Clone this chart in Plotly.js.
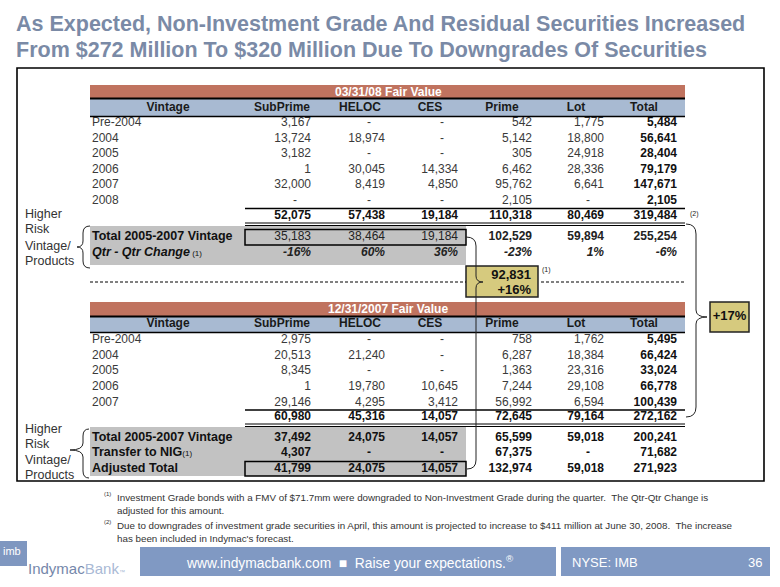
<!DOCTYPE html>
<html><head><meta charset="utf-8">
<script src="https://cdn.plot.ly/plotly-3.0.1.min.js"></script>
<style>html,body{margin:0;padding:0;background:#fff}#chart{width:780px;height:587px}</style>
</head><body><div id="chart"></div>
<script>
// ---------- DATA ----------
const headers = ['Vintage','SubPrime','HELOC','CES','Prime','Lot','Total'];
const titleQ1 = '03/31/08 Fair Value';
const titleQ4 = '12/31/2007 Fair Value';

const rowsQ1 = ['Pre-2004','2004','2005','2006','2007','2008'];
const q1SubPrime = [3167,13724,3182,1,32000,null];
const q1Heloc    = [null,18974,null,30045,8419,null];
const q1Ces      = [null,null,null,14334,4850,null];
const q1Prime    = [542,5142,305,6462,95762,2105];
const q1Lot      = [1775,18800,24918,28336,6641,null];
const q1Total    = [5484,56641,28404,79179,147671,2105];
const q1ColTotals  = [52075,57438,19184,110318,80469,319484];
const q1Vintage0507 = [35183,38464,19184,102529,59894,255254];
const q1QtrChange  = ['-16%','60%','36%','-23%','1%','-6%'];

const rowsQ4 = ['Pre-2004','2004','2005','2006','2007'];
const q4SubPrime = [2975,20513,8345,1,29146];
const q4Heloc    = [null,21240,null,19780,4295];
const q4Ces      = [null,null,null,10645,3412];
const q4Prime    = [758,6287,1363,7244,56992];
const q4Lot      = [1762,18384,23316,29108,6594];
const q4Total    = [5495,66424,33024,66778,100439];
const q4ColTotals   = [60980,45316,14057,72645,79164,272162];
const q4Vintage0507 = [37492,24075,14057,65599,59018,200241];
const q4TransferNIG = [4307,null,null,67375,null,71682];
const q4Adjusted    = [41799,24075,14057,132974,59018,271923];

const boxQ1Vintage = [92831];
const boxQ1Change = ['+16%'];
const boxTotalChange = ['+17%'];

// ---------- LAYOUT CONSTANTS ----------
const FONT = 'Liberation Sans, Arial, sans-serif';
const headerX = [168,282,360,430,502,576,644];
const numRight = [311,385,458,532,604,677];
const dashOff = 16;
const labelX = 92;
const Y1 = {head:108, rows:[123,139,154,170,185,201], tot:216, v:237, q:253};
const Y4 = {head:324, rows:[340,356,371,387,403], tot:417, v:438, t:453, a:469};
const fmt = v => v.toLocaleString('en-US');

const traces = [];
function textTrace(xs, ys, texts, pos, size, color, bold){
  traces.push({type:'scatter', mode:'text', x:xs, y:ys,
    text: texts.map(t => bold ? '<b>'+t+'</b>' : t),
    textposition: pos, marker:{size:1}, hoverinfo:'skip', showlegend:false,
    textfont:{family:FONT, size:size, color:color}, cliponaxis:false});
}
function numRow(vals, y, color, bold, cols){
  const xs=[], ys=[], ts=[], dx=[], dy=[], dt=[];
  vals.forEach((v,i)=>{
    const c = cols ? cols[i] : i;
    if (v===null){ dx.push(numRight[c]-dashOff); dy.push(y); dt.push('-'); }
    else { xs.push(numRight[c]); ys.push(y); ts.push(typeof v==='number'?fmt(v):v); }
  });
  textTrace(xs, ys, ts, 'middle left', 12, color, bold);
  if (dx.length) textTrace(dx, dy, dt, 'middle center', 12, color, bold);
}
function columnsOf(arrs, rowIdx){ return arrs.map(a=>a[rowIdx]); }

[Y1.head, Y4.head].forEach(y=>{
  textTrace(headerX, headerX.map(()=>y), headers, 'middle center', 12, '#1a1a1a', true);
});
const q1Cols=[q1SubPrime,q1Heloc,q1Ces,q1Prime,q1Lot];
textTrace(rowsQ1.map(()=>labelX), Y1.rows, rowsQ1, 'middle right', 12, '#3a3a3a', false);
rowsQ1.forEach((r,i)=>{ numRow(columnsOf(q1Cols,i), Y1.rows[i], '#3a3a3a', false); });
textTrace(q1Total.map(()=>numRight[5]), Y1.rows, q1Total.map(fmt), 'middle left', 12, '#111', true);
numRow(q1ColTotals, Y1.tot, '#111', true);
numRow(q1Vintage0507.slice(0,3), Y1.v, '#222', false);
numRow(q1Vintage0507.slice(3), Y1.v, '#222', true, [3,4,5]);
textTrace(q1QtrChange.map((v,i)=>numRight[i]), q1QtrChange.map(()=>Y1.q), q1QtrChange.map(v=>'<i>'+v+'</i>'), 'middle left', 12, '#222', true);

const q4Cols=[q4SubPrime,q4Heloc,q4Ces,q4Prime,q4Lot];
textTrace(rowsQ4.map(()=>labelX), Y4.rows, rowsQ4, 'middle right', 12, '#3a3a3a', false);
rowsQ4.forEach((r,i)=>{ numRow(columnsOf(q4Cols,i), Y4.rows[i], '#3a3a3a', false); });
textTrace(q4Total.map(()=>numRight[5]), Y4.rows, q4Total.map(fmt), 'middle left', 12, '#111', true);
numRow(q4ColTotals, Y4.tot, '#111', true);
numRow(q4Vintage0507, Y4.v, '#111', true);
numRow(q4TransferNIG, Y4.t, '#111', true);
numRow(q4Adjusted, Y4.a, '#111', true);

textTrace([labelX,labelX],[Y1.v,Y1.q],
  ['<b>Total 2005-2007 Vintage</b>','<b><i>Qtr - Qtr Change</i></b><span style="font-size:8px"> (1)</span>'],
  'middle right', 12.5, '#111', false);
textTrace([labelX,labelX,labelX],[Y4.v,Y4.t,Y4.a],
  ['<b>Total 2005-2007 Vintage</b>','<b>Transfer to NIG</b><span style="font-size:8px">(1)</span>','<b>Adjusted Total</b>'],
  'middle right', 12.5, '#111', false);

textTrace([531,531],[276,291],[fmt(boxQ1Vintage[0]), boxQ1Change[0]], 'middle left', 13, '#111', true);
textTrace([729.5],[317],boxTotalChange,'middle center',13,'#111',true);

// ---------- SHAPES ----------
const RED='#c0735f', BLUE='#a8bad2', GRAY='#c2c2c2', KHAKI='#d6ca7e';
const shapes=[];
const rect=(x0,y0,x1,y1,fill,lc,lw)=>shapes.push({type:'rect',xref:'x',yref:'y',x0,y0,x1,y1,fillcolor:fill||'rgba(0,0,0,0)',line:{color:lc||'rgba(0,0,0,0)',width:lw||0},layer:'below'});
const line=(x0,y0,x1,y1,w,c,dash)=>shapes.push({type:'line',xref:'x',yref:'y',x0,y0,x1,y1,line:{color:c||'#000',width:w,dash:dash||'solid'}});
const path=(p,w)=>shapes.push({type:'path',xref:'x',yref:'y',path:p,line:{color:'#222',width:w||1},fillcolor:'rgba(0,0,0,0)'});

rect(17,68,764,481,null,'#000',1.6);
rect(90,85,685,98,RED); line(90,98.5,685,98.5,2);
rect(90,99,685,116,BLUE); line(90,116.5,685,116.5,1.5);
line(245,208.5,685,208.5,1.5);
line(245,223,685,223,1); line(245,225.5,685,225.5,1);
rect(90,226,466,265,GRAY);
rect(245,229.5,466,245,null,'#000',1.5);
line(90,282,466,282,1,'#000','3px,2px'); line(541,282,685,282,1,'#000','3px,2px');
rect(90,302,685,316,RED); line(90,316.5,685,316.5,2);
rect(90,317,685,332,BLUE); line(90,332.5,685,332.5,1.5);
line(245,410,685,410,1.5);
line(245,424,685,424,1); line(245,426.5,685,426.5,1);
rect(90,427,466,476,GRAY);
rect(245,461.5,466,476,null,'#000',1.5);
rect(466,266,538,297,KHAKI,'#222',1.5);
rect(710,302,749,332,KHAKI,'#222',1.5);
path('M 90 226 Q 83 226 83 233 L 83 241 Q 83 247 77 247 Q 83 247 83 253 L 83 261 Q 83 268 90 268');
path('M 89 429 Q 83 429 83 436 L 83 443 Q 83 450 70 450 Q 83 450 83 457 L 83 471 Q 83 478 89 478');
path('M 466 237 Q 476 237 476 246 L 476 276 Q 476 282 483 282 Q 476 282 476 288 L 476 460 Q 476 469 467 469');
path('M 686 224 Q 696 224 696 234 L 696 310 Q 696 317 707 317 Q 696 317 696 324 L 696 407 Q 696 417 686 417');
rect(0,541,27,566,'#7f97c0');
rect(140,547,556,576,'#8099c3');
rect(561,547,770,576,'#8099c3');

// ---------- ANNOTATIONS ----------
const ann=[];
const A=(x,y,text,o)=>ann.push(Object.assign({xref:'x',yref:'y',x,y,text,showarrow:false,xanchor:'left',yanchor:'middle',borderpad:0,
  font:{family:FONT,size:12,color:'#333'}},o||{}));
const titleFont={family:FONT,size:21.5,color:'#7a8aa6'};
A(15,24,'<b>As Expected, Non-Investment Grade And Residual Securities Increased</b>',{font:titleFont});
A(15,50,'<b>From $272 Million To $320 Million Due To Downgrades Of Securities</b>',{font:titleFont});
A(388,91.5,'<b>'+titleQ1+'</b>',{xanchor:'center',font:{family:FONT,size:12,color:'#fff'}});
A(388,309,'<b>'+titleQ4+'</b>',{xanchor:'center',font:{family:FONT,size:12,color:'#fff'}});
['Higher','Risk','Vintage/','Products'].forEach((t,i)=>{
  A(24,[214,229,246,261][i],t,{font:{family:FONT,size:12.5,color:'#333'}});
  A(24,[429,444,460,475][i],t,{font:{family:FONT,size:12.5,color:'#333'}});
});
A(541,270,'(1)',{font:{family:FONT,size:7,color:'#222'}});
A(689,214,'(2)',{font:{family:FONT,size:7,color:'#222'}});
const fnFont={family:FONT,size:9.8,color:'#333'};
A(103,494,'(1)',{font:{family:FONT,size:6,color:'#333'}});
A(116,497,'Investment Grade bonds with a FMV of $71.7mm were downgraded to Non-Investment Grade during the quarter.  The Qtr-Qtr Change is',{font:fnFont});
A(116,510,'adjusted for this amount.',{font:fnFont});
A(103,522,'(2)',{font:{family:FONT,size:6,color:'#333'}});
A(116,525,'Due to downgrades of investment grade securities in April, this amount is projected to increase to $411 million at June 30, 2008.  The increase',{font:fnFont});
A(116,538,'has been included in Indymac\'s forecast.',{font:fnFont});
A(2,551,'imb',{font:{family:FONT,size:11,color:'#fff'}});
A(27,568,'<span style="color:#7587aa">Indymac</span><span style="color:#a9b9d5">Bank</span><span style="font-size:6px;color:#a9b9d5">™</span>',{font:{family:FONT,size:15}});
A(349,562,'www.indymacbank.com  ■  Raise your expectations.<sup>®</sup>',{xanchor:'center',font:{family:FONT,size:13.8,color:'#fff'}});
A(571,562,'NYSE: IMB',{font:{family:FONT,size:13,color:'#fff'}});
A(763,562,'36',{xanchor:'right',font:{family:FONT,size:13,color:'#fff'}});

const layout={width:780,height:587,margin:{l:0,r:0,t:0,b:0},paper_bgcolor:'#fff',plot_bgcolor:'#fff',
  xaxis:{range:[0,780],visible:false,fixedrange:true},
  yaxis:{range:[587,0],visible:false,fixedrange:true},
  shapes, annotations:ann, showlegend:false};
Plotly.newPlot('chart',traces,layout,{displayModeBar:false,staticPlot:true});
</script></body></html>
